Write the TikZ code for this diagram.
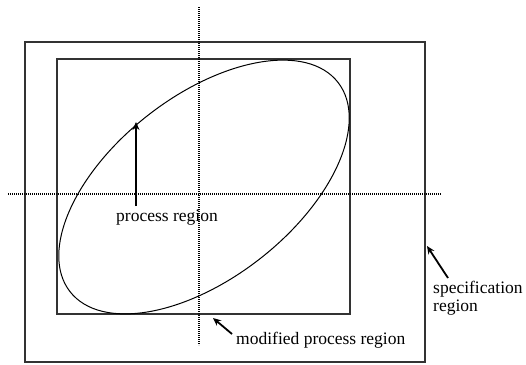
\documentclass[tikz,border=0pt]{standalone}
\usepackage{fontspec}
\setmainfont{Liberation Serif}
\usetikzlibrary{arrows.meta}
\begin{document}
\begin{tikzpicture}[x=1pt,y=-1pt,
  box/.style={draw=black!80, line width=1.1pt},
  dotline/.style={line width=1.3pt, dash pattern=on 1.1pt off 0.9pt},
  pointer/.style={line width=1.8pt, -{Stealth[length=8pt,width=7pt]}},
  lbl/.style={font=\fontsize{17.5}{18}\selectfont, inner sep=0pt}]
\useasboundingbox (0,0) rectangle (526,364);
\fill[white] (0,0) rectangle (526,364);
\node[box, minimum width=400pt, minimum height=320pt, inner sep=0pt] (spec) at (225,202) {};
\node[box, minimum width=293pt, minimum height=255pt, inner sep=0pt] (mod) at (203.5,186.5) {};
\draw[dotline] (199,7) -- (199,345);
\draw[dotline] (8,194) -- (441,194);
\draw[line width=1pt] (204,187) ellipse[x radius=170, y radius=91, rotate=38];
\coordinate (ptip) at (136,122);
\coordinate (mtip) at (213,318);
\coordinate (stip) at (427,246);
\node[lbl] (plab) at (167,218) {process region};
\node[lbl, anchor=west] (mlab) at (236,340) {modified process region};
\node[lbl, anchor=north west, align=left] (slab) at (433,281) {specification\\region};
\draw[pointer] (136,206) -- (ptip);
\draw[pointer] (232,334) -- (mtip);
\draw[pointer] (448,278) -- (stip);
\end{tikzpicture}
\end{document}
